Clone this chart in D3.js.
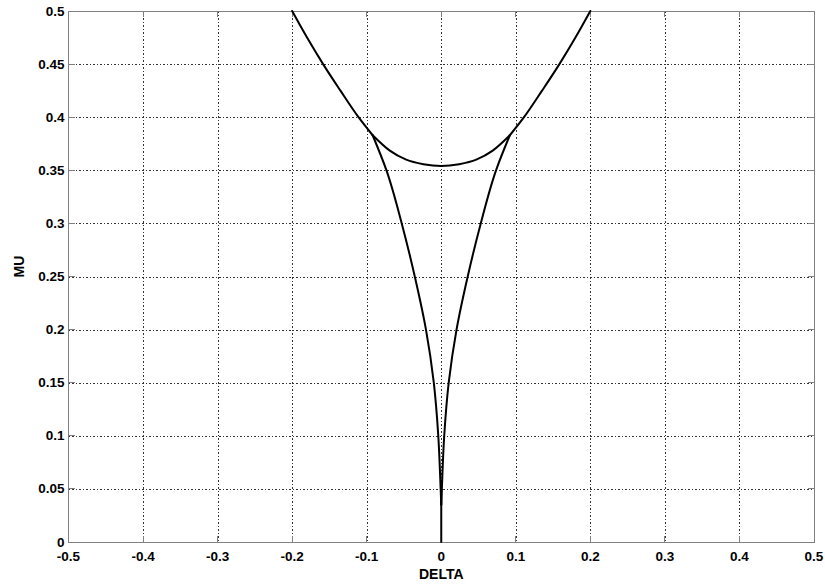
<!DOCTYPE html>
<html>
<head>
<meta charset="utf-8">
<script src="https://cdn.jsdelivr.net/npm/d3@7"></script>
<style>
  html, body { margin: 0; padding: 0; background: #fff; }
  svg { display: block; }
  .tick-label { font-family: "Liberation Sans", Arial, sans-serif; font-weight: bold; font-size: 13.5px; fill: #000; }
  .axis-title { font-family: "Liberation Sans", Arial, sans-serif; font-weight: bold; font-size: 14px; fill: #000; }
</style>
</head>
<body>
<svg id="chart" width="825" height="584"></svg>
<script>
// Axis ticks
const xTicks = [-0.5, -0.4, -0.3, -0.2, -0.1, 0, 0.1, 0.2, 0.3, 0.4, 0.5];
const xTickLabels = ["-0.5", "-0.4", "-0.3", "-0.2", "-0.1", "0", "0.1", "0.2", "0.3", "0.4", "0.5"];
const yTicks = [0, 0.05, 0.1, 0.15, 0.2, 0.25, 0.3, 0.35, 0.4, 0.45, 0.5];
const yTickLabels = ["0", "0.05", "0.1", "0.15", "0.2", "0.25", "0.3", "0.35", "0.4", "0.45", "0.5"];

// Curves as [DELTA, MU] pairs
const outerLeft = [[-0.2, 0.5], [-0.180, 0.475], [-0.1585, 0.45], [-0.1352, 0.425], [-0.111, 0.4], [-0.092, 0.383]];
const outerRight = [[0.092, 0.383], [0.111, 0.4], [0.1352, 0.425], [0.1585, 0.45], [0.180, 0.475], [0.2, 0.5]];
const innerArc = [[-0.092, 0.383], [-0.069, 0.3685], [-0.047, 0.3600], [-0.024, 0.3557], [0, 0.3540],
                  [0.024, 0.3557], [0.047, 0.3600], [0.069, 0.3685], [0.092, 0.383]];
const cuspLeft = [[-0.092, 0.383], [-0.0735, 0.35], [-0.0530, 0.3], [-0.0355, 0.25], [-0.0205, 0.2],
                  [-0.0100, 0.15], [-0.0040, 0.1], [-0.0008, 0.05], [0, 0.035]];
const cuspRight = [[0.092, 0.383], [0.0735, 0.35], [0.0530, 0.3], [0.0355, 0.25], [0.0205, 0.2],
                   [0.0100, 0.15], [0.0040, 0.1], [0.0008, 0.05], [0, 0.035]];
const stem = [[0, 0], [0, 0.05]];

const margin = { left: 68.5, right: 11, top: 11, bottom: 42 };
const W = 825, H = 584;
const svg = d3.select("#chart");
svg.append("rect").attr("width", W).attr("height", H).attr("fill", "#fff");

const x = d3.scaleLinear().domain([-0.5, 0.5]).range([margin.left, W - margin.right]);
const y = d3.scaleLinear().domain([0, 0.5]).range([H - margin.bottom, margin.top]);

const x0 = x.range()[0], x1 = x.range()[1];
const y0 = y.range()[0], y1 = y.range()[1];

// Dotted grid
const grid = svg.append("g").attr("shape-rendering", "crispEdges");
grid.selectAll("line.vg").data(xTicks.slice(1, -1)).join("line")
  .attr("x1", d => Math.round(x(d)) + 0.5).attr("x2", d => Math.round(x(d)) + 0.5)
  .attr("y1", y1).attr("y2", y0)
  .attr("stroke", "#333").attr("stroke-width", 1).attr("stroke-dasharray", "1.5,2");
grid.selectAll("line.hg").data(yTicks.slice(1, -1)).join("line")
  .attr("y1", d => Math.round(y(d)) + 0.5).attr("y2", d => Math.round(y(d)) + 0.5)
  .attr("x1", x0).attr("x2", x1)
  .attr("stroke", "#333").attr("stroke-width", 1).attr("stroke-dasharray", "1.5,2");

// Axes box and inward ticks
const axisColor = "#808080";
const axes = svg.append("g").attr("shape-rendering", "crispEdges");
axes.append("rect").attr("x", x0).attr("y", y1).attr("width", x1 - x0).attr("height", y0 - y1)
  .attr("fill", "none").attr("stroke", axisColor).attr("stroke-width", 1);
const tl = 6;
axes.selectAll("line.xt").data(xTicks).join("line")
  .attr("x1", d => x(d)).attr("x2", d => x(d)).attr("y1", y0).attr("y2", y0 - tl)
  .attr("stroke", axisColor);
axes.selectAll("line.xt2").data(xTicks).join("line")
  .attr("x1", d => x(d)).attr("x2", d => x(d)).attr("y1", y1).attr("y2", y1 + tl)
  .attr("stroke", axisColor);
axes.selectAll("line.yt").data(yTicks).join("line")
  .attr("y1", d => y(d)).attr("y2", d => y(d)).attr("x1", x0).attr("x2", x0 + tl)
  .attr("stroke", axisColor);
axes.selectAll("line.yt2").data(yTicks).join("line")
  .attr("y1", d => y(d)).attr("y2", d => y(d)).attr("x1", x1).attr("x2", x1 - tl)
  .attr("stroke", axisColor);

// Tick labels
svg.selectAll("text.xl").data(xTicks).join("text")
  .attr("class", "tick-label")
  .attr("x", d => x(d)).attr("y", y0 + 19)
  .attr("text-anchor", "middle")
  .text((d, i) => xTickLabels[i]);
svg.selectAll("text.yl").data(yTicks).join("text")
  .attr("class", "tick-label")
  .attr("x", x0 - 4).attr("y", d => y(d) + 4.5)
  .attr("text-anchor", "end")
  .text((d, i) => yTickLabels[i]);

// Axis titles
svg.append("text").attr("class", "axis-title")
  .attr("x", (x0 + x1) / 2).attr("y", y0 + 37).attr("text-anchor", "middle").text("DELTA");
svg.append("text").attr("class", "axis-title")
  .attr("transform", `translate(24, ${(y0 + y1) / 2 - 10}) rotate(-90)`)
  .attr("text-anchor", "middle").text("MU");

// Bifurcation curves
const lineX = d3.line().x(d => x(d[0])).y(d => y(d[1])).curve(d3.curveMonotoneX);
const lineY = d3.line().x(d => x(d[0])).y(d => y(d[1])).curve(d3.curveMonotoneY);
const curves = svg.append("g").attr("fill", "none").attr("stroke", "#000")
  .attr("stroke-width", 2).attr("stroke-linejoin", "round").attr("stroke-linecap", "round");
[outerLeft, outerRight, innerArc].forEach(c => curves.append("path").attr("d", lineX(c)));
[cuspLeft, cuspRight].forEach(c => curves.append("path").attr("d", lineY(c.slice().reverse())));
curves.append("path").attr("d", d3.line().x(d => x(d[0])).y(d => y(d[1]))(stem));
</script>
</body>
</html>
